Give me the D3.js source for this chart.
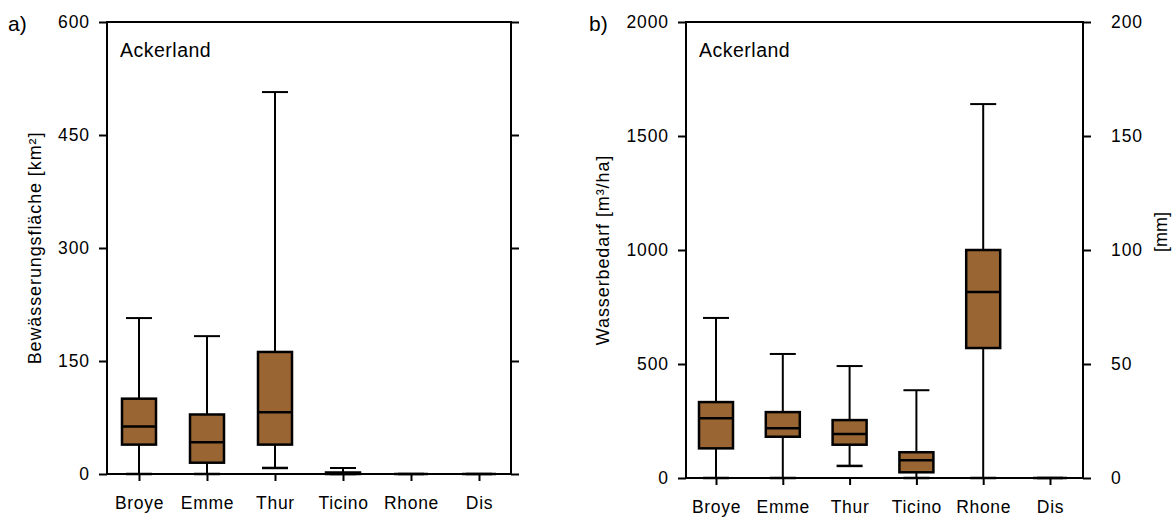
<!DOCTYPE html>
<html>
<head>
<meta charset="utf-8">
<script src="https://cdn.jsdelivr.net/npm/d3@7"></script>
<style>
  html, body { margin: 0; padding: 0; background: #fff; }
  svg text { font-family: "Liberation Sans", Arial, sans-serif; fill: #000; }
</style>
</head>
<body>
<svg id="chart" width="1174" height="517"></svg>
<script>
// ---- data ----
const categories = ["Broye", "Emme", "Thur", "Ticino", "Rhone", "Dis"];

// Panel a: Bewässerungsfläche [km²]
const areaMin = [0, 0, 8, 0, 0, 0];
const areaQ1  = [39, 15, 39, 0, 0, 0];
const areaMed = [63, 42, 82, 1, 0, 0];
const areaQ3  = [100, 79, 162, 2, 0, 0];
const areaMax = [207, 183, 507, 8, 0, 0];
const areaTicks = [0, 150, 300, 450, 600];

// Panel b: Wasserbedarf [m³/ha]
const demandMin = [0, 0, 53, 0, 0, 0];
const demandQ1  = [130, 181, 146, 25, 570, 0];
const demandMed = [262, 218, 193, 78, 816, 0];
const demandQ3  = [333, 289, 254, 113, 1000, 0];
const demandMax = [702, 544, 491, 385, 1640, 0];
const demandTicks = [0, 500, 1000, 1500, 2000];
const mmTicks = [0, 50, 100, 150, 200];

const boxFill = "#996633";
const svg = d3.select("#chart");

function panel(opts) {
  const { left, right, top, bottom, xFirst, xLast, yMax, ticks, rightTicks,
          mins, q1s, meds, q3s, maxs, letter, letterX, title, titleX, catY } = opts;
  const g = svg.append("g");
  const x = d3.scalePoint().domain(categories).range([xFirst, xLast]);
  const y = d3.scaleLinear().domain([0, yMax]).range([bottom, top]);
  const boxW = 34, capW = 26;

  // left axis
  const ya = g.append("g").attr("transform", `translate(${left},0)`)
    .call(d3.axisLeft(y).tickValues(ticks).tickSize(8).tickPadding(9).tickFormat(d3.format("d")));
  ya.select(".domain").remove();
  ya.selectAll("line").attr("stroke", "#000").attr("stroke-width", 2);
  ya.selectAll("text").style("font-size", "17.5px").style("letter-spacing", "0.9px");

  // right axis
  const yr = rightTicks.scale;
  const ra = g.append("g").attr("transform", `translate(${right},0)`)
    .call(d3.axisRight(yr).tickValues(rightTicks.values).tickSize(8).tickPadding(20)
      .tickFormat(rightTicks.labels ? d3.format("d") : () => ""));
  ra.select(".domain").remove();
  ra.selectAll("line").attr("stroke", "#000").attr("stroke-width", 2);
  ra.selectAll("text").style("font-size", "17.5px").style("letter-spacing", "0.9px");

  // bottom axis
  const xa = g.append("g").attr("transform", `translate(0,${bottom})`)
    .call(d3.axisBottom(x).tickSize(7).tickPadding(20));
  xa.select(".domain").remove();
  xa.selectAll("line").attr("stroke", "#000").attr("stroke-width", 2);
  xa.selectAll("text").style("font-size", "17.5px").style("letter-spacing", "0.7px")
    .attr("y", catY - bottom).attr("dy", "0");

  // frame
  g.append("rect").attr("x", left).attr("y", top)
    .attr("width", right - left).attr("height", bottom - top)
    .attr("fill", "none").attr("stroke", "#000").attr("stroke-width", 2);

  // boxes
  const data = categories.map((c, i) => ({ c, mn: mins[i], q1: q1s[i], md: meds[i], q3: q3s[i], mx: maxs[i] }));
  const b = g.selectAll(".box").data(data).enter().append("g");
  b.append("line").attr("x1", d => x(d.c)).attr("x2", d => x(d.c))
    .attr("y1", d => y(d.mn)).attr("y2", d => y(d.mx))
    .attr("stroke", "#000").attr("stroke-width", 2);
  b.append("line").attr("x1", d => x(d.c) - capW / 2).attr("x2", d => x(d.c) + capW / 2)
    .attr("y1", d => y(d.mx)).attr("y2", d => y(d.mx))
    .attr("stroke", "#000").attr("stroke-width", 2);
  b.append("line").attr("x1", d => x(d.c) - capW / 2).attr("x2", d => x(d.c) + capW / 2)
    .attr("y1", d => y(d.mn)).attr("y2", d => y(d.mn))
    .attr("stroke", "#000").attr("stroke-width", 2.5);
  b.append("rect").attr("x", d => x(d.c) - boxW / 2).attr("width", boxW)
    .attr("y", d => y(d.q3)).attr("height", d => y(d.q1) - y(d.q3))
    .attr("fill", boxFill).attr("stroke", "#000").attr("stroke-width", 2.5);
  b.append("line").attr("x1", d => x(d.c) - boxW / 2).attr("x2", d => x(d.c) + boxW / 2)
    .attr("y1", d => y(d.md)).attr("y2", d => y(d.md))
    .attr("stroke", "#000").attr("stroke-width", 2.5);

  // panel letter and inner title
  g.append("text").attr("x", letterX).attr("y", 31).style("font-size", "21px").text(letter);
  g.append("text").attr("x", left + 13).attr("y", 57).style("font-size", "19.5px")
    .style("letter-spacing", "0.5px").text("Ackerland");

  // axis title
  g.append("text")
    .attr("transform", `translate(${titleX},${(top + bottom) / 2}) rotate(-90)`)
    .attr("text-anchor", "middle").style("font-size", "18px").style("letter-spacing", "0.9px")
    .text(title);
  return g;
}

// panel a
const yA = d3.scaleLinear().domain([0, 600]).range([474, 22]);
panel({
  left: 107, right: 511, top: 22, bottom: 474, xFirst: 139, xLast: 479, yMax: 600,
  ticks: areaTicks, rightTicks: { scale: yA, values: areaTicks, labels: false },
  mins: areaMin, q1s: areaQ1, meds: areaMed, q3s: areaQ3, maxs: areaMax,
  letter: "a)", letterX: 8, title: "Bewässerungsfläche [km²]", titleX: 41, catY: 509
});

// panel b
const yMm = d3.scaleLinear().domain([0, 200]).range([478, 22]);
const gb = panel({
  left: 686, right: 1083, top: 22, bottom: 478, xFirst: 716, xLast: 1050, yMax: 2000,
  ticks: demandTicks, rightTicks: { scale: yMm, values: mmTicks, labels: true },
  mins: demandMin, q1s: demandQ1, meds: demandMed, q3s: demandQ3, maxs: demandMax,
  letter: "b)", letterX: 589, title: "Wasserbedarf [m³/ha]", titleX: 609, catY: 513
});
gb.append("text")
  .attr("transform", `translate(1167,232) rotate(-90)`)
  .attr("text-anchor", "middle").style("font-size", "18px").text("[mm]");
</script>
</body>
</html>
